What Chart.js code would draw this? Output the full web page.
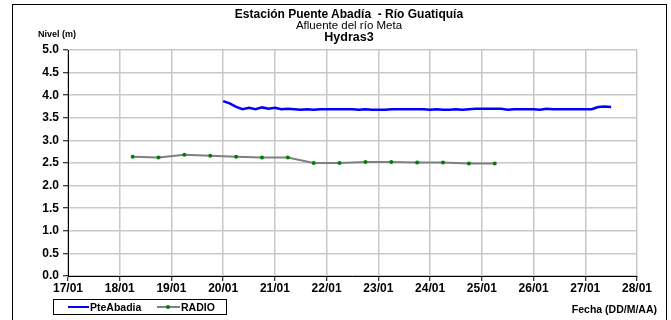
<!DOCTYPE html>
<html>
<head>
<meta charset="utf-8">
<script src="https://cdn.jsdelivr.net/npm/chart.js@4/dist/chart.umd.min.js"></script>
<style>
  body { margin: 0; background: #fff; font-family: 'Liberation Sans', Arial, sans-serif; }
  #wrap { position: relative; width: 671px; height: 320px; overflow: hidden; }
  #frame { position: absolute; left: 12px; top: 4px; width: 653px; height: 330px; border: 1px solid #000; }
  .t { position: absolute; white-space: nowrap; color: #000; }
  #legend { position: absolute; left: 53px; top: 299px; width: 172px; height: 14px; border: 1px solid #000; background: #fff; }
</style>
</head>
<body>
<div id="wrap">
  <div id="frame"></div>
  <canvas id="nivelChart" width="671" height="320" style="position:absolute;left:0;top:0"></canvas>
  <div class="t" style="left:0;width:698px;text-align:center;top:7px;font-size:12px;font-weight:bold">Estación Puente Abadía&nbsp; - Río Guatiquía</div>
  <div class="t" style="left:0;width:698px;text-align:center;top:19px;font-size:11.5px">Afluente del río Meta</div>
  <div class="t" style="left:0;width:698px;text-align:center;top:30px;font-size:12.5px;font-weight:bold">Hydras3</div>
  <div class="t" style="left:38px;top:29px;font-size:9px;font-weight:bold">Nivel (m)</div>
  <div class="t" style="right:14px;top:303px;font-size:10.5px;font-weight:bold">Fecha (DD/M/AA)</div>
  <div id="legend">
    <div style="position:absolute;left:14px;top:6px;width:21px;height:2px;background:#0000ff"></div>
    <div class="t" style="left:36px;top:1px;font-size:10.5px;font-weight:bold">PteAbadia</div>
    <div style="position:absolute;left:103px;top:6px;width:23px;height:2px;background:#808080"></div>
    <div style="position:absolute;left:112px;top:5px;width:4px;height:4px;border-radius:2px;background:#008000"></div>
    <div class="t" style="left:127px;top:1px;font-size:10.5px;font-weight:bold">RADIO</div>
  </div>
</div>
<script>
// Dias (dia del mes de enero) y niveles (m)
const xTicks = [17, 18, 19, 20, 21, 22, 23, 24, 25, 26, 27, 28];
const yTicks = [0, 0.5, 1, 1.5, 2, 2.5, 3, 3.5, 4, 4.5, 5];

// PteAbadia: lecturas cada 3 horas desde el 20/01 00:00
const pteInicio = 20;
const pteIntervalo = 0.125;
const pteNivel = [
  3.87, 3.82, 3.74, 3.69, 3.72, 3.69, 3.73, 3.70,
  3.72, 3.69, 3.70, 3.69, 3.68, 3.69, 3.68, 3.69,
  3.69, 3.69, 3.69, 3.69, 3.69, 3.68, 3.69, 3.68,
  3.68, 3.68, 3.69, 3.69, 3.69, 3.69, 3.69, 3.69,
  3.68, 3.69, 3.68, 3.68, 3.69, 3.68, 3.69, 3.70,
  3.70, 3.70, 3.70, 3.70, 3.68, 3.69, 3.69, 3.69,
  3.69, 3.68, 3.70, 3.69, 3.69, 3.69, 3.69, 3.69,
  3.69, 3.69, 3.74, 3.75, 3.74,
];

// RADIO: lecturas manuales (06:00 y 18:00)
const radioDia = [18.25, 18.75, 19.25, 19.75, 20.25, 20.75, 21.25, 21.75, 22.25, 22.75, 23.25, 23.75, 24.25, 24.75, 25.25];
const radioNivel = [2.64, 2.62, 2.68, 2.66, 2.64, 2.62, 2.62, 2.50, 2.50, 2.52, 2.52, 2.51, 2.51, 2.49, 2.49];

const pteData = pteNivel.map((v, i) => ({ x: pteInicio + i * pteIntervalo, y: v }));
const radioData = radioNivel.map((v, i) => ({ x: radioDia[i], y: v }));

const tickFont = { family: 'Liberation Sans', size: 12, weight: 'bold' };

new Chart(document.getElementById('nivelChart'), {
  type: 'line',
  data: {
    datasets: [
      {
        label: 'PteAbadia',
        data: pteData,
        borderColor: '#0000ff',
        borderWidth: 2.5,
        pointRadius: 0,
        tension: 0,
      },
      {
        label: 'RADIO',
        data: radioData,
        borderColor: '#808080',
        borderWidth: 2,
        pointRadius: 2,
        pointBorderWidth: 0,
        pointBackgroundColor: '#008000',
        pointBorderColor: '#008000',
        tension: 0,
      },
    ],
  },
  options: {
    responsive: false,
    animation: false,
    layout: { padding: { left: 0, top: 50, right: 34, bottom: 24 } },
    plugins: {
      legend: { display: false },
      tooltip: { enabled: false },
    },
    scales: {
      x: {
        type: 'linear',
        min: xTicks[0],
        max: xTicks[xTicks.length - 1],
        afterBuildTicks: (s) => { s.ticks = xTicks.map((v) => ({ value: v })); },
        afterFit: (s) => { s.height = 20; },
        ticks: {
          color: '#000',
          font: tickFont,
          padding: 0,
          maxRotation: 0,
          callback: (v) => String(v).padStart(2, '0') + '/01',
        },
        grid: { color: '#c8c8c8', lineWidth: 1.5, tickColor: '#000', tickLength: 5, tickWidth: 1 },
        border: { color: '#000', width: 1 },
      },
      y: {
        min: yTicks[0],
        max: yTicks[yTicks.length - 1],
        afterBuildTicks: (s) => { s.ticks = yTicks.map((v) => ({ value: v })); },
        afterFit: (s) => { s.width = 68; },
        ticks: {
          color: '#000',
          font: tickFont,
          padding: 4,
          callback: (v) => v.toFixed(1),
        },
        grid: { color: '#c8c8c8', lineWidth: 1.5, tickColor: '#000', tickLength: 5, tickWidth: 1 },
        border: { color: '#000', width: 1 },
      },
    },
  },
});
</script>
</body>
</html>
